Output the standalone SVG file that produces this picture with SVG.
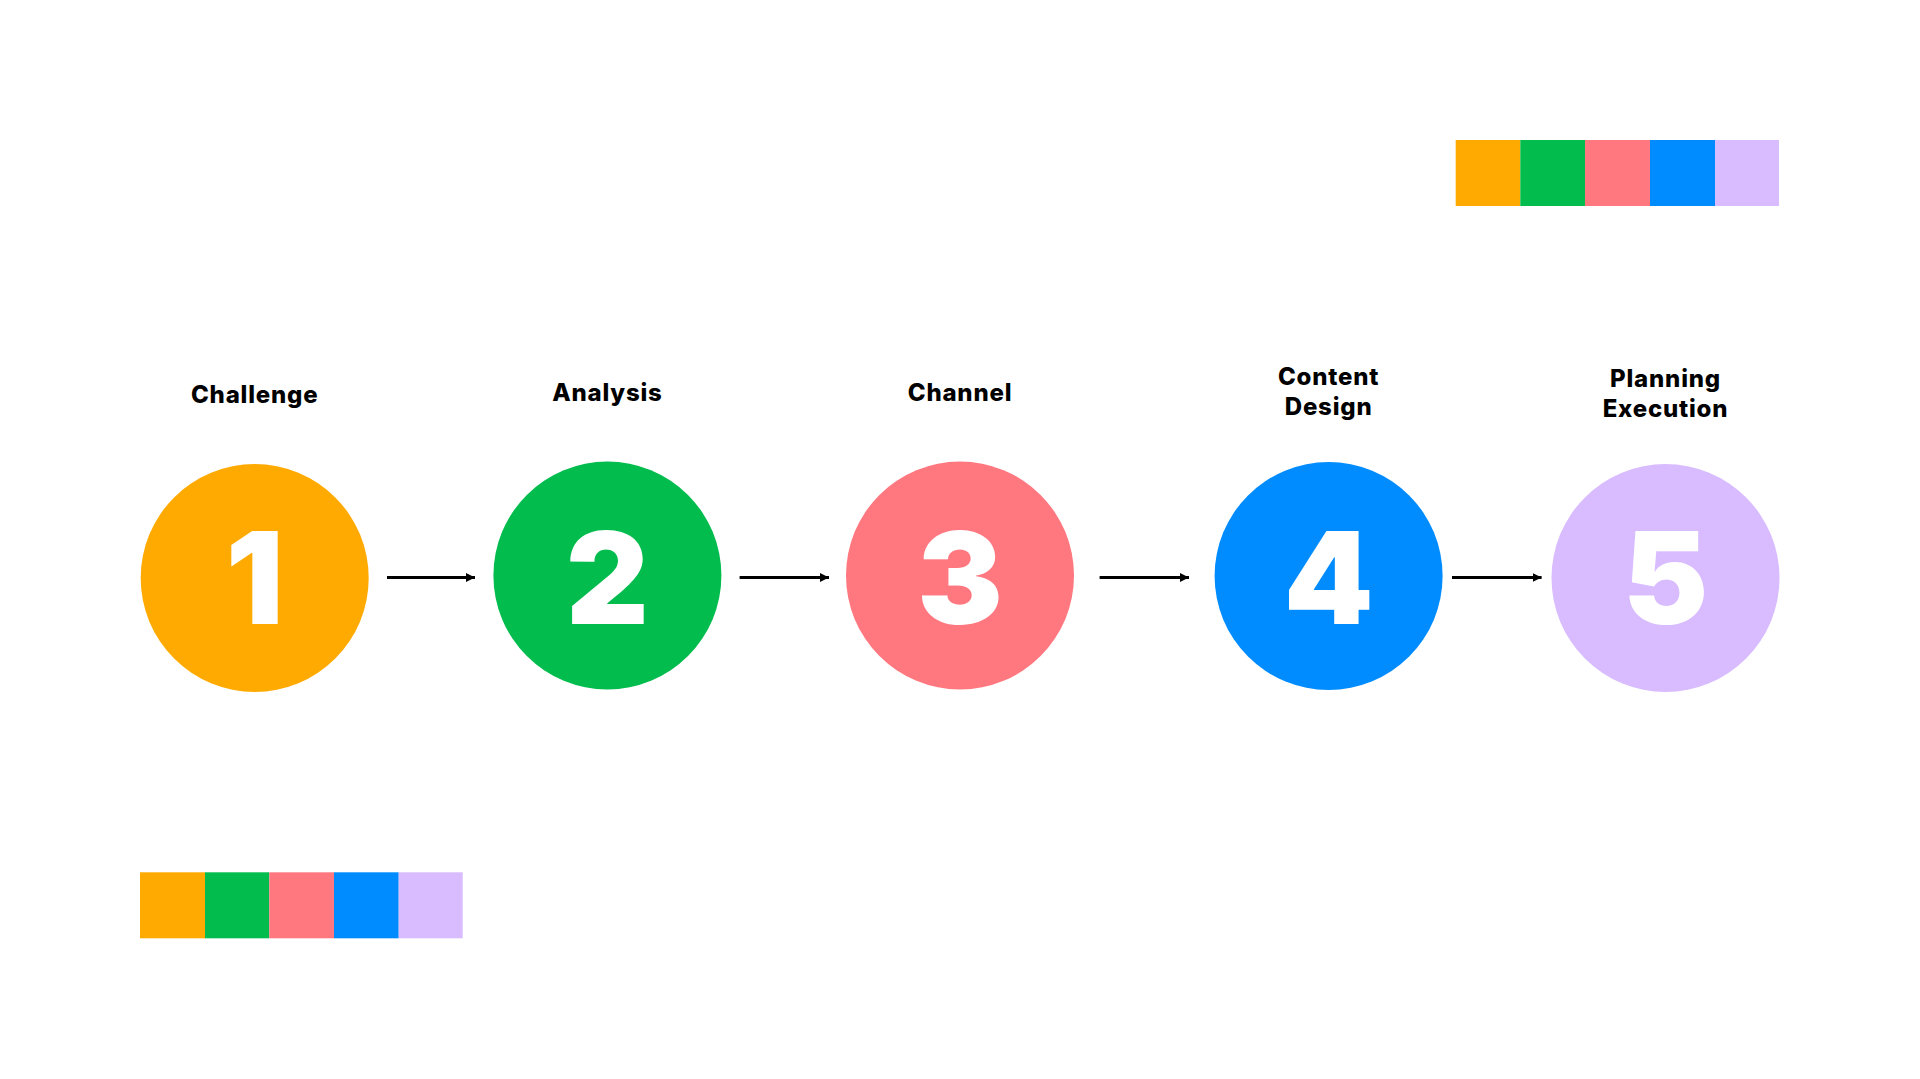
<svg xmlns="http://www.w3.org/2000/svg" width="1920" height="1079" viewBox="0 0 1920 1079">
<style>
.lbl{font-family:Inter,"Noto Sans","Liberation Sans",sans-serif;font-weight:800;font-size:24px;letter-spacing:0.8px;fill:#000;text-anchor:middle}
.num{font-family:Inter,"Noto Sans","Liberation Sans",sans-serif;font-weight:900;font-size:128px;fill:#fff;text-anchor:middle}
.c1{fill:#FFAA00}.c2{fill:#02BC4D}.c3{fill:#FF7880}.c4{fill:#008CFF}.c5{fill:#D8BCFF}
.conn{stroke:#000;stroke-width:3;fill:none}
</style>
<defs>
<marker id="ah" viewBox="0 0 10 10" refX="10" refY="5" markerWidth="9" markerHeight="12" markerUnits="userSpaceOnUse" orient="auto">
<path d="M0,0 L10,5 L0,10 Z" fill="#000"/>
</marker>
</defs>
<rect width="1920" height="1079" fill="#fff"/>
<g id="palette-top">
<rect class="c1" x="1455.7" y="140" width="64.6" height="66"/>
<rect class="c2" x="1520.3" y="140" width="64.7" height="66"/>
<rect class="c3" x="1585" y="140" width="65" height="66"/>
<rect class="c4" x="1650" y="140" width="65" height="66"/>
<rect class="c5" x="1715" y="140" width="64" height="66"/>
</g>
<g id="palette-bottom">
<rect class="c1" x="140" y="872.3" width="65" height="66"/>
<rect class="c2" x="205" y="872.3" width="64.3" height="66"/>
<rect class="c3" x="269.3" y="872.3" width="64.7" height="66"/>
<rect class="c4" x="334" y="872.3" width="64.7" height="66"/>
<rect class="c5" x="398.7" y="872.3" width="64" height="66"/>
</g>
<g id="connectors">
<line class="conn" x1="387" y1="577.5" x2="475" y2="577.5" marker-end="url(#ah)"/>
<line class="conn" x1="739.6" y1="577.5" x2="829" y2="577.5" marker-end="url(#ah)"/>
<line class="conn" x1="1099.6" y1="577.5" x2="1189" y2="577.5" marker-end="url(#ah)"/>
<line class="conn" x1="1452" y1="577.5" x2="1541.6" y2="577.5" marker-end="url(#ah)"/>
</g>
<g id="node1">
<text class="lbl" x="254.7" y="403">Challenge</text>
<circle class="c1" cx="254.7" cy="578" r="114"/>
<text class="num" x="254.7" y="624">1</text>
</g>
<g id="node2">
<text class="lbl" x="607.4" y="401">Analysis</text>
<circle class="c2" cx="607.4" cy="575.5" r="114"/>
<text class="num" x="607.4" y="624">2</text>
</g>
<g id="node3">
<text class="lbl" x="960" y="401">Channel</text>
<circle class="c3" cx="960" cy="575.5" r="114"/>
<text class="num" x="960" y="624">3</text>
</g>
<g id="node4">
<text class="lbl" x="1328.6" y="385">Content</text>
<text class="lbl" x="1328.6" y="415">Design</text>
<circle class="c4" cx="1328.6" cy="576" r="114"/>
<text class="num" x="1328.6" y="623.5">4</text>
</g>
<g id="node5">
<text class="lbl" x="1665.5" y="387">Planning</text>
<text class="lbl" x="1665.5" y="417">Execution</text>
<circle class="c5" cx="1665.5" cy="578" r="114"/>
<text class="num" x="1665.5" y="624">5</text>
</g>
</svg>
